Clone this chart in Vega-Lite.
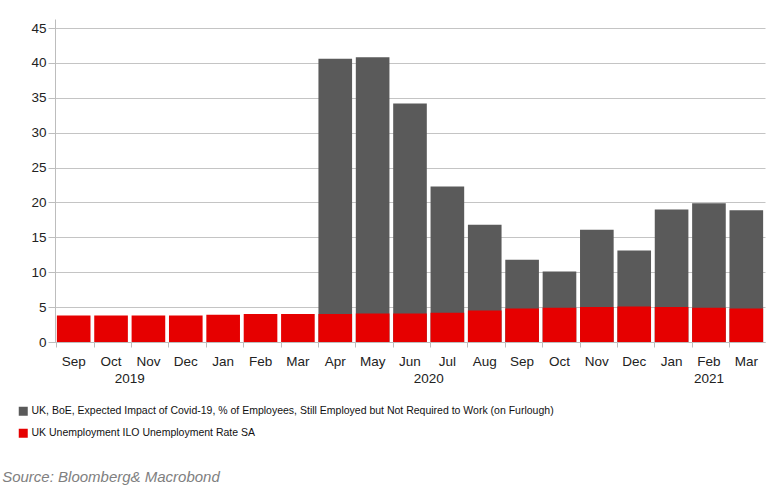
{
  "$schema": "https://vega.github.io/schema/vega-lite/v6.json",
  "width": 710,
  "height": 323,
  "autosize": "none",
  "padding": {"left": 55, "top": 19, "right": 2, "bottom": 149},
  "config": {
    "font": "Liberation Sans",
    "view": {"stroke": null},
    "axis": {"labelFont": "Liberation Sans", "labelFontSize": 13.5, "labelColor": "#222222", "domainColor": "#bdbdbd", "tickColor": "#bdbdbd", "gridColor": "#c4c4c4", "titleColor": "#222222"}
  },
  "data": {
    "values": [
      {"date": "2019-09-15", "series": "UK Unemployment ILO Unemployment Rate SA", "value": 3.8},
      {"date": "2019-10-15", "series": "UK Unemployment ILO Unemployment Rate SA", "value": 3.8},
      {"date": "2019-11-15", "series": "UK Unemployment ILO Unemployment Rate SA", "value": 3.8},
      {"date": "2019-12-15", "series": "UK Unemployment ILO Unemployment Rate SA", "value": 3.8},
      {"date": "2020-01-15", "series": "UK Unemployment ILO Unemployment Rate SA", "value": 3.9},
      {"date": "2020-02-15", "series": "UK Unemployment ILO Unemployment Rate SA", "value": 4.0},
      {"date": "2020-03-15", "series": "UK Unemployment ILO Unemployment Rate SA", "value": 4.0},
      {"date": "2020-04-15", "series": "UK Unemployment ILO Unemployment Rate SA", "value": 4.0},
      {"date": "2020-05-15", "series": "UK Unemployment ILO Unemployment Rate SA", "value": 4.1},
      {"date": "2020-06-15", "series": "UK Unemployment ILO Unemployment Rate SA", "value": 4.1},
      {"date": "2020-07-15", "series": "UK Unemployment ILO Unemployment Rate SA", "value": 4.2},
      {"date": "2020-08-15", "series": "UK Unemployment ILO Unemployment Rate SA", "value": 4.5},
      {"date": "2020-09-15", "series": "UK Unemployment ILO Unemployment Rate SA", "value": 4.8},
      {"date": "2020-10-15", "series": "UK Unemployment ILO Unemployment Rate SA", "value": 4.9},
      {"date": "2020-11-15", "series": "UK Unemployment ILO Unemployment Rate SA", "value": 5.0},
      {"date": "2020-12-15", "series": "UK Unemployment ILO Unemployment Rate SA", "value": 5.1},
      {"date": "2021-01-15", "series": "UK Unemployment ILO Unemployment Rate SA", "value": 5.0},
      {"date": "2021-02-15", "series": "UK Unemployment ILO Unemployment Rate SA", "value": 4.9},
      {"date": "2021-03-15", "series": "UK Unemployment ILO Unemployment Rate SA", "value": 4.8},
      {"date": "2020-04-15", "series": "UK, BoE, Expected Impact of Covid-19, % of Employees, Still Employed but Not Required to Work (on Furlough)", "value": 40.6},
      {"date": "2020-05-15", "series": "UK, BoE, Expected Impact of Covid-19, % of Employees, Still Employed but Not Required to Work (on Furlough)", "value": 40.8},
      {"date": "2020-06-15", "series": "UK, BoE, Expected Impact of Covid-19, % of Employees, Still Employed but Not Required to Work (on Furlough)", "value": 34.2},
      {"date": "2020-07-15", "series": "UK, BoE, Expected Impact of Covid-19, % of Employees, Still Employed but Not Required to Work (on Furlough)", "value": 22.3},
      {"date": "2020-08-15", "series": "UK, BoE, Expected Impact of Covid-19, % of Employees, Still Employed but Not Required to Work (on Furlough)", "value": 16.8},
      {"date": "2020-09-15", "series": "UK, BoE, Expected Impact of Covid-19, % of Employees, Still Employed but Not Required to Work (on Furlough)", "value": 11.8},
      {"date": "2020-10-15", "series": "UK, BoE, Expected Impact of Covid-19, % of Employees, Still Employed but Not Required to Work (on Furlough)", "value": 10.1},
      {"date": "2020-11-15", "series": "UK, BoE, Expected Impact of Covid-19, % of Employees, Still Employed but Not Required to Work (on Furlough)", "value": 16.1},
      {"date": "2020-12-15", "series": "UK, BoE, Expected Impact of Covid-19, % of Employees, Still Employed but Not Required to Work (on Furlough)", "value": 13.1},
      {"date": "2021-01-15", "series": "UK, BoE, Expected Impact of Covid-19, % of Employees, Still Employed but Not Required to Work (on Furlough)", "value": 19.0},
      {"date": "2021-02-15", "series": "UK, BoE, Expected Impact of Covid-19, % of Employees, Still Employed but Not Required to Work (on Furlough)", "value": 19.9},
      {"date": "2021-03-15", "series": "UK, BoE, Expected Impact of Covid-19, % of Employees, Still Employed but Not Required to Work (on Furlough)", "value": 18.9}
    ]
  },
  "layer": [
    {
      "transform": [{"filter": {"field": "series", "equal": "UK, BoE, Expected Impact of Covid-19, % of Employees, Still Employed but Not Required to Work (on Furlough)"}}],
      "mark": {"type": "bar"},
      "encoding": {
        "x": {
          "field": "date", "timeUnit": "yearmonth", "type": "ordinal",
          "scale": {"paddingInner": 0.1, "paddingOuter": 0.05},
          "axis": {"title": null, "labelAngle": 0, "format": "%b", "tickSize": 5, "labelPadding": 7, "bandPosition": 0}
        },
        "y": {
          "field": "value", "type": "quantitative", "stack": null,
          "scale": {"domain": [0, 46.3], "nice": false},
          "axis": {"title": null, "values": [0, 5, 10, 15, 20, 25, 30, 35, 40, 45], "tickSize": 7, "labelPadding": 2}
        },
        "color": {
          "field": "series", "type": "nominal",
          "scale": {
            "domain": ["UK, BoE, Expected Impact of Covid-19, % of Employees, Still Employed but Not Required to Work (on Furlough)", "UK Unemployment ILO Unemployment Rate SA"],
            "range": ["#5a5a5a", "#e60000"]
          },
          "legend": {
            "title": null, "orient": "none", "legendX": -37, "legendY": 387, "padding": 0,
            "symbolType": "square", "symbolSize": 81, "symbolStrokeWidth": 0,
            "labelFont": "Liberation Sans", "labelFontSize": 10.5, "labelColor": "#111111",
            "labelLimit": 800, "labelOffset": 3, "rowPadding": 11
          }
        }
      }
    },
    {
      "transform": [{"filter": {"field": "series", "equal": "UK Unemployment ILO Unemployment Rate SA"}}],
      "mark": {"type": "bar"},
      "encoding": {
        "x": {
          "field": "date", "timeUnit": "yearmonth", "type": "ordinal",
          "scale": {"paddingInner": 0.1, "paddingOuter": 0.05},
          "axis": {"title": null, "labelAngle": 0, "format": "%b", "tickSize": 5, "labelPadding": 7, "bandPosition": 0}
        },
        "y": {
          "field": "value", "type": "quantitative", "stack": null,
          "scale": {"domain": [0, 46.3], "nice": false},
          "axis": {"title": null, "values": [0, 5, 10, 15, 20, 25, 30, 35, 40, 45], "tickSize": 7, "labelPadding": 2}
        },
        "color": {"field": "series", "type": "nominal"}
      }
    },
    {
      "data": {"values": [{"date": "2019-10-15", "year": "2019"}, {"date": "2020-06-15", "year": "2020"}]},
      "mark": {"type": "text", "dx": 18.7, "fontSize": 13.5, "color": "#222222", "font": "Liberation Sans"},
      "encoding": {
        "x": {
          "field": "date", "timeUnit": "yearmonth", "type": "ordinal",
          "axis": {"title": null, "labelAngle": 0, "format": "%b", "tickSize": 5, "labelPadding": 7, "bandPosition": 0}
        },
        "y": {
          "datum": -5.3, "type": "quantitative",
          "axis": {"title": null, "values": [0, 5, 10, 15, 20, 25, 30, 35, 40, 45], "tickSize": 7, "labelPadding": 2}
        },
        "text": {"field": "year"}
      }
    },
    {
      "data": {"values": [{"date": "2021-02-15", "year": "2021"}]},
      "mark": {"type": "text", "fontSize": 13.5, "color": "#222222", "font": "Liberation Sans"},
      "encoding": {
        "x": {
          "field": "date", "timeUnit": "yearmonth", "type": "ordinal",
          "axis": {"title": null, "labelAngle": 0, "format": "%b", "tickSize": 5, "labelPadding": 7, "bandPosition": 0}
        },
        "y": {
          "datum": -5.3, "type": "quantitative",
          "axis": {"title": null, "values": [0, 5, 10, 15, 20, 25, 30, 35, 40, 45], "tickSize": 7, "labelPadding": 2}
        },
        "text": {"field": "year"}
      }
    },
    {
      "data": {"values": [{"date": "2019-09-15", "note": "Source: Bloomberg& Macrobond"}]},
      "mark": {"type": "text", "align": "left", "baseline": "alphabetic", "dx": -71.5, "fontSize": 15, "fontStyle": "italic", "color": "#808080", "font": "Liberation Sans"},
      "encoding": {
        "x": {
          "field": "date", "timeUnit": "yearmonth", "type": "ordinal",
          "axis": {"title": null, "labelAngle": 0, "format": "%b", "tickSize": 5, "labelPadding": 7, "bandPosition": 0}
        },
        "y": {
          "datum": -20.1, "type": "quantitative",
          "axis": {"title": null, "values": [0, 5, 10, 15, 20, 25, 30, 35, 40, 45], "tickSize": 7, "labelPadding": 2}
        },
        "text": {"field": "note"}
      }
    }
  ]
}
